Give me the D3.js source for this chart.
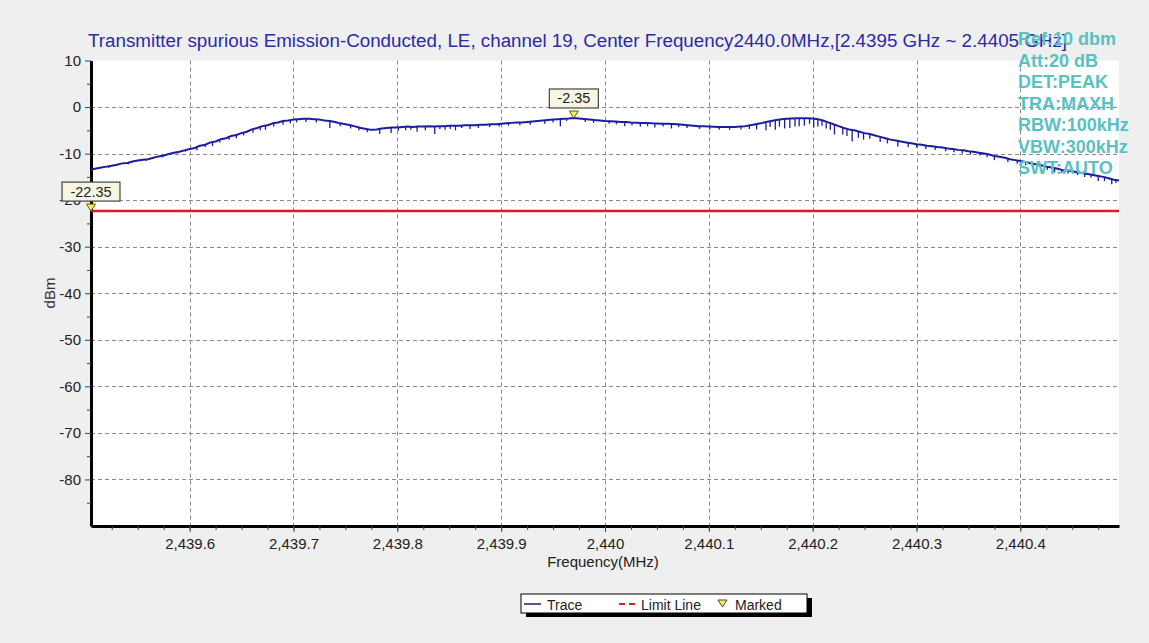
<!DOCTYPE html>
<html>
<head>
<meta charset="utf-8">
<script src="https://cdn.jsdelivr.net/npm/d3@7"></script>
<style>
  body { margin: 0; background: #efefef; }
  svg { display: block; font-family: Arial, "Liberation Sans", sans-serif; }
</style>
</head>
<body>
<svg id="chart" width="1149" height="643"></svg>
<script>
// sweep grid (MHz)
var sweepStart = 2439.505;
var sweepStep = 0.005;

// max-hold trace, dBm, one value per sweep point
var traceDbm = [
  -13.4, -13.2, -13.0, -12.8, -12.6, -12.4, -12.1, -12.0, -11.7, -11.5,
  -11.3, -11.2, -10.9, -10.6, -10.4, -10.1, -9.8, -9.6, -9.3, -9.0,
  -8.8, -8.3, -8.1, -7.6, -7.4, -6.9, -6.7, -6.2, -6.0, -5.6,
  -5.3, -4.8, -4.5, -4.1, -3.9, -3.5, -3.3, -3.0, -2.9, -2.7,
  -2.6, -2.5, -2.5, -2.6, -2.7, -2.9, -3.0, -3.2, -3.5, -3.7,
  -3.9, -4.2, -4.5, -4.7, -4.9, -4.8, -4.6, -4.5, -4.4, -4.4,
  -4.3, -4.2, -4.3, -4.2, -4.2, -4.1, -4.2, -4.1, -4.1, -4.0,
  -4.0, -4.0, -3.9, -3.9, -3.9, -3.8, -3.8, -3.7, -3.7, -3.6,
  -3.5, -3.4, -3.3, -3.3, -3.2, -3.1, -3.0, -2.9, -2.8, -2.7,
  -2.6, -2.5, -2.45, -2.35, -2.45, -2.55, -2.65, -2.8, -2.9, -3.0,
  -3.05, -3.1, -3.2, -3.2, -3.3, -3.35, -3.4, -3.4, -3.5, -3.55,
  -3.6, -3.6, -3.65, -3.7, -3.8, -3.9, -4.0, -4.1, -4.15, -4.2,
  -4.25, -4.3, -4.3, -4.3, -4.3, -4.2, -4.1, -3.9, -3.7, -3.5,
  -3.2, -3.0, -2.8, -2.6, -2.5, -2.45, -2.4, -2.4, -2.4, -2.45,
  -2.6, -2.9, -3.3, -3.7, -4.1, -4.5, -4.8, -5.0, -5.3, -5.6,
  -5.8, -6.1, -6.4, -6.7, -7.0, -7.2, -7.4, -7.6, -7.8, -8.0,
  -8.1, -8.3, -8.4, -8.6, -8.7, -8.9, -9.0, -9.2, -9.3, -9.5,
  -9.6, -9.8, -10.0, -10.2, -10.5, -10.7, -10.9, -11.2, -11.4, -11.6,
  -11.8, -12.1, -12.3, -12.5, -12.8, -13.0, -13.2, -13.5, -13.6, -13.8,
  -14.0, -14.2, -14.4, -14.6, -14.8, -15.0, -15.3, -15.6, -15.8
];

// narrow downward spikes seen on the trace: [MHz, lowest dBm]
var spikes = [
  [2439.522, -13.1], [2439.541, -12.3], [2439.558, -11.6], [2439.574, -10.8],
  [2439.588, -10.0], [2439.596, -9.6], [2439.607, -9.3], [2439.615, -8.6],
  [2439.622, -8.4], [2439.629, -7.6], [2439.638, -7.0], [2439.645, -6.7],
  [2439.652, -6.1], [2439.661, -5.5], [2439.668, -5.0], [2439.673, -4.9],
  [2439.681, -4.2], [2439.690, -3.8], [2439.697, -3.5], [2439.703, -3.3],
  [2439.712, -3.2], [2439.722, -3.3], [2439.735, -4.5], [2439.745, -4.1],
  [2439.755, -4.6], [2439.763, -5.0], [2439.771, -5.4], [2439.783, -5.8],
  [2439.794, -5.6], [2439.801, -5.1], [2439.808, -5.0], [2439.813, -4.9],
  [2439.819, -5.3], [2439.827, -5.0], [2439.836, -5.8], [2439.841, -4.7],
  [2439.846, -4.9], [2439.851, -4.7], [2439.856, -5.0], [2439.862, -4.5],
  [2439.870, -4.7], [2439.878, -4.5], [2439.889, -4.3], [2439.898, -4.2],
  [2439.907, -4.0], [2439.918, -3.9], [2439.928, -3.8], [2439.942, -3.6],
  [2439.950, -3.3], [2439.957, -4.1], [2439.963, -3.0], [2439.981, -3.2],
  [2439.989, -3.4], [2440.004, -3.6], [2440.011, -3.7], [2440.019, -4.1],
  [2440.026, -3.9], [2440.034, -4.2], [2440.041, -4.1], [2440.048, -4.4],
  [2440.056, -4.2], [2440.064, -4.6], [2440.071, -4.3], [2440.079, -4.5],
  [2440.091, -4.7], [2440.101, -4.8], [2440.110, -4.9], [2440.120, -4.9],
  [2440.131, -4.8], [2440.139, -4.7], [2440.146, -4.8], [2440.155, -5.0],
  [2440.159, -4.3], [2440.164, -4.9], [2440.168, -4.2], [2440.173, -4.6],
  [2440.178, -4.5], [2440.183, -4.2], [2440.187, -4.1], [2440.192, -4.0],
  [2440.197, -3.6], [2440.201, -4.4], [2440.205, -4.2], [2440.209, -4.0],
  [2440.213, -4.6], [2440.217, -4.9], [2440.221, -5.9], [2440.229, -5.9],
  [2440.233, -6.2], [2440.238, -7.4], [2440.244, -6.6], [2440.249, -7.0],
  [2440.255, -6.8], [2440.265, -7.5], [2440.272, -7.8], [2440.282, -8.5],
  [2440.292, -8.6], [2440.300, -8.7], [2440.309, -9.0], [2440.318, -9.2],
  [2440.328, -9.5], [2440.336, -9.7], [2440.344, -10.0], [2440.352, -10.2],
  [2440.361, -10.4], [2440.368, -10.8], [2440.375, -11.4], [2440.388, -11.8],
  [2440.397, -12.2], [2440.405, -12.5], [2440.412, -12.9], [2440.419, -12.9],
  [2440.426, -13.5], [2440.433, -14.0], [2440.440, -14.1], [2440.446, -14.3],
  [2440.455, -14.6], [2440.462, -15.0], [2440.468, -15.2], [2440.475, -15.9],
  [2440.481, -15.9], [2440.488, -16.6], [2440.492, -16.3]
];

var limitDbm = -22.35;
var markers = [
  { freq: 2439.505, dbm: -22.35, label: "-22.35" },
  { freq: 2439.970, dbm: -2.35, label: "-2.35" }
];

var xDomain = [2439.505, 2440.495];
var yDomain = [-90, 10];
var xTicks = [2439.6, 2439.7, 2439.8, 2439.9, 2440.0, 2440.1, 2440.2, 2440.3, 2440.4];
var yTicks = [10, 0, -10, -20, -30, -40, -50, -60, -70, -80];

var titleText = "Transmitter spurious Emission-Conducted, LE, channel 19, Center Frequency2440.0MHz,[2.4395 GHz ~ 2.4405 GHz]";
var infoLines = ["Ref:10 dbm", "Att:20 dB", "DET:PEAK", "TRA:MAXH", "RBW:100kHz", "VBW:300kHz", "SWT:AUTO"];

var svg = d3.select("#chart");
var plotL = 91, plotR = 1119, plotT = 60.5, plotB = 526;

var x = d3.scaleLinear().domain(xDomain).range([plotL, plotR]);
var y = d3.scaleLinear().domain(yDomain).range([plotB, plotT]);

var trace = traceDbm.map(function(v, i) {
  return { f: sweepStart + i * sweepStep, v: v };
});

// plot background
svg.append("rect")
  .attr("x", plotL).attr("y", plotT)
  .attr("width", plotR - plotL).attr("height", plotB - plotT)
  .attr("fill", "#fff");

// grid
var grid = svg.append("g").attr("stroke", "#8a8a8a").attr("stroke-dasharray", "4,3").attr("stroke-width", 1);
grid.selectAll("line.h").data(yTicks.filter(function(d) { return d < 10; })).enter()
  .append("line").attr("class", "h")
  .attr("x1", plotL).attr("x2", plotR)
  .attr("y1", function(d) { return Math.round(y(d)) + 0.5; })
  .attr("y2", function(d) { return Math.round(y(d)) + 0.5; });
grid.selectAll("line.v").data(xTicks).enter()
  .append("line").attr("class", "v")
  .attr("y1", plotT).attr("y2", plotB)
  .attr("x1", function(d) { return Math.round(x(d)) + 0.5; })
  .attr("x2", function(d) { return Math.round(x(d)) + 0.5; });

// axes
var fmtX = d3.format(",.1~f");
var xMinor = d3.range(0, 40).map(function(i) { return 2439.525 + i * 0.025; })
  .filter(function(d) { return d < xDomain[1]; });
var yMinor = d3.range(-85, 10, 10);

var xAxis = svg.append("g").attr("transform", "translate(0," + plotB + ")")
  .call(d3.axisBottom(x).tickValues(xTicks).tickFormat(fmtX).tickSize(6).tickSizeOuter(0).tickPadding(6));
svg.append("g").attr("transform", "translate(0," + plotB + ")")
  .call(d3.axisBottom(x).tickValues(xMinor).tickFormat("").tickSize(4).tickSizeOuter(0))
  .call(function(g) { g.select(".domain").remove(); });

var yAxis = svg.append("g").attr("transform", "translate(" + plotL + ",0)")
  .call(d3.axisLeft(y).tickValues(yTicks).tickFormat(function(d) { return String(d); }).tickSize(6).tickSizeOuter(0).tickPadding(4));
svg.append("g").attr("transform", "translate(" + plotL + ",0)")
  .call(d3.axisLeft(y).tickValues(yMinor).tickFormat("").tickSize(4).tickSizeOuter(0))
  .call(function(g) { g.select(".domain").remove(); });

svg.selectAll(".tick text").attr("font-size", 15).attr("fill", "#222")
  .attr("font-family", "Arial, 'Liberation Sans', sans-serif");
svg.selectAll(".tick line").attr("stroke", "#444");
xAxis.select(".domain").attr("stroke", "#000").attr("stroke-width", 3);
yAxis.select(".domain").attr("stroke", "#000").attr("stroke-width", 3);

// axis titles
svg.append("text").attr("x", 603).attr("y", 567).attr("text-anchor", "middle")
  .attr("font-size", 15).attr("fill", "#222").text("Frequency(MHz)");
svg.append("text").attr("transform", "translate(55,293) rotate(-90)").attr("text-anchor", "middle")
  .attr("font-size", 15).attr("fill", "#333").text("dBm");

// limit line
svg.append("line")
  .attr("x1", x(xDomain[0])).attr("x2", plotR)
  .attr("y1", y(limitDbm)).attr("y2", y(limitDbm))
  .attr("stroke", "#d61f1f").attr("stroke-width", 2.5);

// trace
var line = d3.line().x(function(d) { return x(d.f); }).y(function(d) { return y(d.v); });
svg.append("path").datum(trace)
  .attr("d", line).attr("fill", "none")
  .attr("stroke", "#1c1ca0").attr("stroke-width", 2).attr("stroke-linejoin", "round");

svg.append("g").selectAll("line").data(spikes).enter().append("line")
  .attr("x1", function(d) { return x(d[0]); })
  .attr("x2", function(d) { return x(d[0]); })
  .attr("y1", function(d) {
    var i = Math.round((d[0] - sweepStart) / sweepStep);
    return y(traceDbm[Math.max(0, Math.min(traceDbm.length - 1, i))]);
  })
  .attr("y2", function(d) { return y(d[1]); })
  .attr("stroke", "#1c1ca0").attr("stroke-width", 1.3);

// markers
var mk = svg.append("g").selectAll("g").data(markers).enter().append("g")
  .attr("transform", function(d) { return "translate(" + x(d.freq) + "," + y(d.dbm) + ")"; });
mk.append("path").attr("d", "M-4.5,-7L4.5,-7L0,0Z")
  .attr("fill", "#f4f25a").attr("stroke", "#5a5a20").attr("stroke-width", 1);
mk.append("rect").attr("x", -29).attr("y", -29).attr("width", 58).attr("height", 19)
  .attr("fill", "#f7f6e2").attr("stroke", "#444").attr("stroke-width", 1.2);
mk.append("text").attr("x", 0).attr("y", -14.5).attr("text-anchor", "middle")
  .attr("font-size", 14.5).attr("fill", "#222").text(function(d) { return d.label; });
// second box is narrower in the reference
mk.filter(function(d) { return d.label.length < 6; }).select("rect")
  .attr("x", -24.5).attr("width", 49);

// title
svg.append("text").attr("x", 88).attr("y", 47).attr("font-size", 18.8).attr("fill", "#2b2ba6")
  .text(titleText);

// instrument settings
svg.append("g").selectAll("text").data(infoLines).enter().append("text")
  .attr("x", 1018).attr("y", function(d, i) { return 45 + i * 21.5; })
  .attr("font-size", 18).attr("font-weight", "bold").attr("fill", "#58c1c1")
  .text(function(d) { return d; });

// legend
var lg = svg.append("g").attr("transform", "translate(521,594)");
lg.append("rect").attr("x", 5).attr("y", 4).attr("width", 286).attr("height", 19).attr("fill", "#000");
lg.append("rect").attr("x", 0).attr("y", 0).attr("width", 286).attr("height", 19)
  .attr("fill", "#fff").attr("stroke", "#000").attr("stroke-width", 1);
lg.append("line").attr("x1", 3).attr("x2", 20).attr("y1", 10).attr("y2", 10)
  .attr("stroke", "#1c1c80").attr("stroke-width", 1.5);
lg.append("text").attr("x", 26).attr("y", 15.5).attr("font-size", 14).attr("fill", "#222").text("Trace");
lg.append("line").attr("x1", 98).attr("x2", 116).attr("y1", 10).attr("y2", 10)
  .attr("stroke", "#d61f1f").attr("stroke-width", 2).attr("stroke-dasharray", "6,4");
lg.append("text").attr("x", 120).attr("y", 15.5).attr("font-size", 14).attr("fill", "#222").text("Limit Line");
lg.append("path").attr("d", "M197,6L206,6L201.5,13Z")
  .attr("fill", "#f4f25a").attr("stroke", "#444").attr("stroke-width", 1);
lg.append("text").attr("x", 214).attr("y", 15.5).attr("font-size", 14).attr("fill", "#222").text("Marked");
</script>
</body>
</html>
